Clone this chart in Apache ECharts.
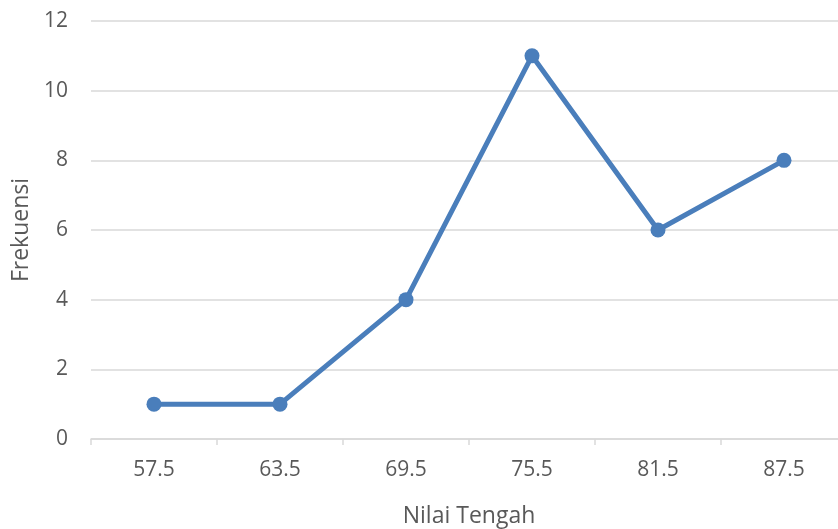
<!DOCTYPE html>
<html><head><meta charset="utf-8">
<script src="https://cdn.jsdelivr.net/npm/echarts@6/dist/echarts.min.js"></script>
<style>html,body{margin:0;padding:0;background:#fff}#c{width:838px;height:529px}</style>
</head><body><div id="c"></div>
<script>
const categories = ['57.5','63.5','69.5','75.5','81.5','87.5'];
const frekuensi = [1,1,4,11,6,8];
const yTicks = {min:0, max:12, interval:2};
const chart = echarts.init(document.getElementById('c'), null, {renderer:'canvas'});
const font = '"Open Sans", "Liberation Sans", sans-serif';
chart.setOption({
  animation:false,
  grid:{left:91, right:-9, top:21, bottom:90, containLabel:false, outerBoundsMode:'none'},
  xAxis:{type:'category', data:categories, boundaryGap:true,
    name:'Nilai Tengah', nameLocation:'middle', nameGap:66,
    nameTextStyle:{color:'#595959', fontSize:23, fontFamily:font},
    axisLine:{lineStyle:{color:'#d9d9d9', width:1.5}},
    axisTick:{show:true, alignWithLabel:false, length:6, lineStyle:{color:'#d9d9d9', width:1.5}},
    axisLabel:{color:'#595959', fontSize:21, fontFamily:font, margin:21},
    splitLine:{show:false}},
  yAxis:{type:'value', min:yTicks.min, max:yTicks.max, interval:yTicks.interval,
    name:'Frekuensi', nameLocation:'middle', nameGap:57, nameRotate:90,
    nameTextStyle:{color:'#595959', fontSize:23, fontFamily:font},
    axisLine:{show:false}, axisTick:{show:false},
    axisLabel:{color:'#595959', fontSize:21, fontFamily:font, margin:23},
    splitLine:{lineStyle:{color:'#d9d9d9', width:1.5}}},
  series:[{type:'line', data:frekuensi, symbol:'circle', symbolSize:15,
    lineStyle:{color:'#4a7ebb', width:5},
    itemStyle:{color:'#4a7ebb'}}]
});
</script></body></html>
